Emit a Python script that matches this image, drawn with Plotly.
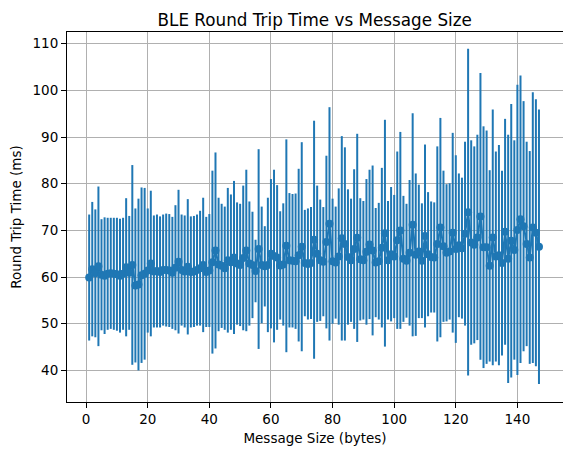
import plotly.graph_objects as go

sizes = list(range(1, 148))

mean_rtt = [
    59.9, 61.7, 60.8, 62.3, 60.5, 60.3, 60.7, 60.8, 60.7, 60.6,
    60.3, 60.7, 62.1, 60.9, 62.6, 58.2, 58.4, 60.4, 60.7, 61.4,
    62.9, 61.2, 61.3, 61.1, 61.5, 61.5, 61.4, 60.9, 62.0, 63.3,
    61.5, 61.2, 62.2, 61.1, 61.2, 61.5, 61.9, 62.6, 61.1, 61.4,
    63.2, 65.7, 62.7, 62.4, 61.9, 63.6, 63.2, 64.2, 62.9, 62.6,
    64.1, 65.7, 62.9, 62.6, 61.3, 66.0, 62.6, 62.3, 62.6, 65.0,
    64.5, 64.2, 62.5, 62.7, 66.7, 63.6, 63.5, 63.4, 64.7, 66.5,
    63.0, 62.8, 63.0, 68.0, 65.0, 63.6, 63.3, 67.5, 71.4, 63.4,
    63.1, 64.4, 68.3, 67.1, 64.3, 63.6, 66.0, 68.4, 63.8, 63.6,
    65.4, 67.0, 65.7, 63.1, 63.4, 66.3, 69.4, 63.6, 64.9, 64.4,
    67.9, 70.0, 63.9, 63.5, 65.2, 71.2, 64.8, 65.5, 63.5, 68.8,
    64.9, 64.3, 64.2, 67.1, 70.6, 66.6, 65.2, 65.5, 69.5, 66.0,
    66.8, 66.2, 69.3, 73.9, 67.4, 66.9, 68.5, 73.0, 66.4, 66.4,
    62.4, 68.5, 64.4, 64.7, 63.0, 69.7, 63.9, 67.8, 65.8, 70.1,
    72.4, 70.9, 67.1, 64.2, 70.6, 69.5, 66.5,
]

std_rtt = [
    13.5, 14.4, 13.7, 17.1, 11.9, 12.5, 12.0, 11.9, 12.0, 12.1,
    12.2, 12.0, 14.8, 12.2, 21.4, 16.5, 18.4, 18.8, 18.4, 13.3,
    15.6, 12.0, 12.1, 11.9, 11.9, 12.1, 12.1, 12.0, 13.4, 15.4,
    11.9, 12.0, 14.5, 11.9, 11.9, 11.9, 12.3, 14.4, 11.8, 12.1,
    19.6, 21.0, 14.3, 13.3, 13.2, 15.5, 14.5, 16.4, 13.1, 13.1,
    15.5, 17.3, 13.3, 11.4, 6.7, 21.4, 12.5, 8.6, 14.4, 16.0,
    18.5, 15.5, 11.6, 13.1, 22.8, 14.4, 14.3, 14.5, 18.5, 22.4,
    11.4, 11.9, 12.0, 25.5, 14.6, 13.0, 11.7, 18.5, 25.0, 13.4,
    12.0, 14.6, 21.9, 20.7, 14.5, 13.2, 17.1, 22.3, 13.1, 12.7,
    15.6, 16.0, 18.2, 11.7, 12.5, 17.1, 24.3, 12.7, 14.4, 13.2,
    19.0, 21.1, 13.5, 12.2, 15.6, 23.9, 17.4, 14.3, 12.3, 19.6,
    13.3, 11.9, 11.8, 20.9, 23.5, 16.2, 14.7, 14.6, 21.4, 20.1,
    15.4, 15.1, 19.7, 35.0, 21.9, 21.1, 22.0, 30.7, 25.9, 25.0,
    20.5, 27.4, 22.5, 23.6, 19.8, 24.2, 26.6, 29.3, 23.5, 31.1,
    30.8, 26.8, 21.9, 22.8, 29.0, 28.6, 29.4,
]

x_ticks = [0, 20, 40, 60, 80, 100, 120, 140]
y_ticks = [40, 50, 60, 70, 80, 90, 100, 110]

blue = "#1f77b4"
font_family = "DejaVu Sans"

fig = go.Figure()
fig.add_trace(go.Scatter(
    x=sizes,
    y=mean_rtt,
    mode="lines+markers",
    line=dict(color=blue, width=2),
    marker=dict(color=blue, size=8),
    error_y=dict(type="data", array=std_rtt, visible=True,
                 color=blue, thickness=2, width=0),
    showlegend=False,
))

axis_common = dict(
    showgrid=True, gridcolor="#b0b0b0", gridwidth=1,
    showline=True, linecolor="black", linewidth=1, mirror=True,
    ticks="outside", ticklen=5, tickwidth=1, tickcolor="black",
    zeroline=False, automargin=False,
    tickfont=dict(family=font_family, size=13.5, color="black"),
)

# page body has an 8px margin, so the figure is sized to fill the rest
fig.update_layout(
    width=563, height=447,
    margin=dict(l=59, r=8, t=24, b=53, pad=0),
    paper_bgcolor="white", plot_bgcolor="white",
    font=dict(family=font_family, color="black"),
    title=dict(text="BLE Round Trip Time vs Message Size",
               x=0.5448, xanchor="center", y=0.972, yanchor="middle",
               font=dict(family=font_family, size=16.8, color="black")),
    xaxis=dict(range=[-6.2, 154.8], tickvals=x_ticks,
               title=dict(text="Message Size (bytes)", standoff=7,
                          font=dict(family=font_family, size=13.5)),
               **axis_common),
    yaxis=dict(range=[33.23, 112.51], tickvals=y_ticks,
               title=dict(text="Round Trip Time (ms)", standoff=8,
                          font=dict(family=font_family, size=13.5)),
               **axis_common),
)

fig.write_html("out.html")
